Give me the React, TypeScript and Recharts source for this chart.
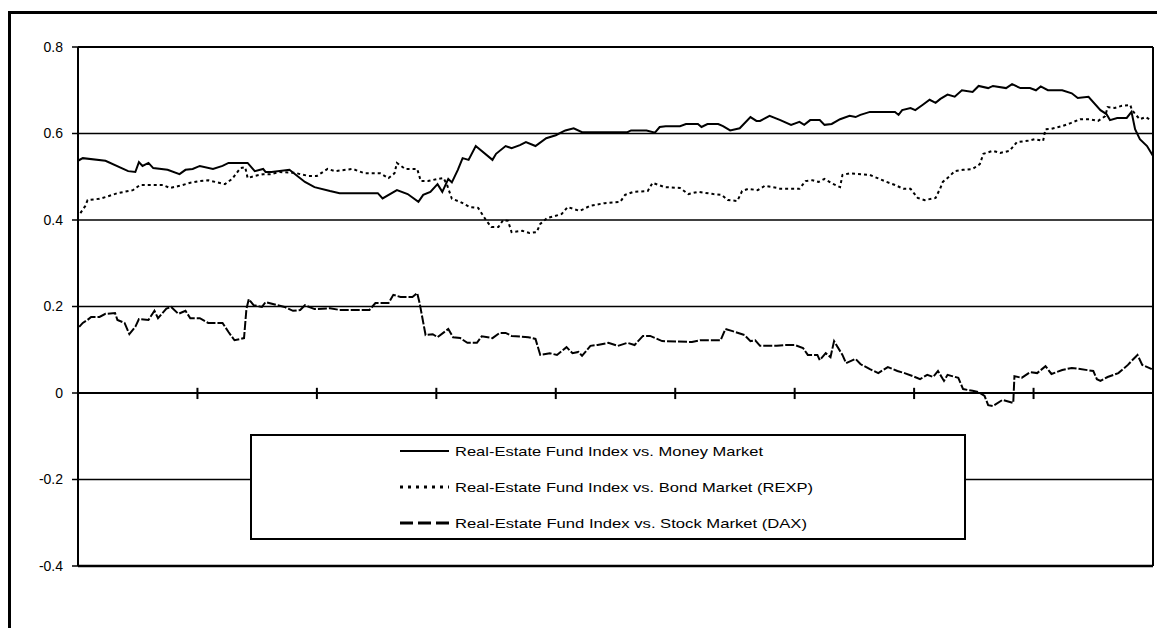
import React from "react";
import { LineChart, Line, XAxis, YAxis, CartesianGrid, ReferenceLine } from "recharts";

// x position in periods (0..9), values = correlation
const moneyT = [0.0,0.04,0.23,0.42,0.48,0.51,0.54,0.59,0.63,0.75,0.85,0.9,0.96,1.02,1.13,1.21,1.26,1.42,1.48,1.55,1.57,1.62,1.77,1.9,1.98,2.11,2.19,2.51,2.55,2.67,2.76,2.85,2.89,2.95,3.01,3.05,3.1,3.13,3.18,3.22,3.27,3.33,3.47,3.5,3.58,3.63,3.7,3.75,3.83,3.92,4.0,4.08,4.15,4.22,4.6,4.63,4.76,4.83,4.87,4.92,5.04,5.09,5.19,5.22,5.27,5.36,5.4,5.46,5.54,5.63,5.68,5.71,5.79,5.88,5.97,6.04,6.08,6.13,6.21,6.25,6.31,6.38,6.46,6.51,6.55,6.63,6.84,6.87,6.9,6.97,7.01,7.07,7.13,7.18,7.22,7.28,7.34,7.4,7.49,7.54,7.62,7.66,7.77,7.82,7.89,7.97,8.02,8.06,8.12,8.24,8.32,8.37,8.46,8.56,8.61,8.64,8.7,8.78,8.82,8.85,8.89,8.95,9.0];
const moneyV = [0.537,0.543,0.537,0.513,0.511,0.534,0.525,0.532,0.52,0.516,0.506,0.516,0.518,0.525,0.518,0.525,0.532,0.532,0.513,0.518,0.511,0.511,0.516,0.488,0.476,0.467,0.462,0.462,0.45,0.469,0.46,0.442,0.458,0.465,0.483,0.465,0.495,0.487,0.516,0.543,0.539,0.571,0.539,0.553,0.571,0.566,0.573,0.58,0.571,0.589,0.596,0.607,0.612,0.603,0.603,0.607,0.607,0.602,0.615,0.617,0.617,0.622,0.622,0.615,0.622,0.622,0.617,0.607,0.612,0.638,0.629,0.629,0.641,0.631,0.62,0.627,0.62,0.631,0.631,0.62,0.622,0.633,0.641,0.638,0.643,0.65,0.65,0.643,0.654,0.659,0.654,0.666,0.678,0.671,0.68,0.69,0.685,0.7,0.696,0.71,0.705,0.71,0.705,0.714,0.705,0.705,0.7,0.709,0.7,0.7,0.693,0.682,0.685,0.654,0.645,0.631,0.636,0.636,0.65,0.61,0.587,0.571,0.548];

const bondT = [0.02,0.06,0.08,0.18,0.23,0.33,0.46,0.52,0.71,0.77,0.85,0.94,1.02,1.09,1.15,1.23,1.29,1.36,1.4,1.42,1.48,1.55,1.61,1.69,1.82,1.86,1.93,2.0,2.09,2.15,2.3,2.4,2.53,2.6,2.65,2.67,2.74,2.84,2.87,2.93,3.01,3.06,3.09,3.13,3.2,3.28,3.35,3.42,3.46,3.52,3.56,3.6,3.63,3.72,3.78,3.84,3.87,3.93,3.99,4.05,4.1,4.2,4.29,4.41,4.54,4.58,4.65,4.77,4.81,4.91,5.04,5.11,5.19,5.32,5.39,5.44,5.52,5.56,5.61,5.69,5.75,5.86,5.88,6.04,6.09,6.15,6.2,6.25,6.31,6.38,6.4,6.46,6.63,6.71,6.77,6.84,6.91,6.97,7.03,7.09,7.18,7.22,7.24,7.3,7.34,7.41,7.49,7.55,7.58,7.66,7.72,7.8,7.86,7.95,8.01,8.08,8.1,8.15,8.24,8.31,8.39,8.47,8.54,8.6,8.62,8.68,8.74,8.81,8.82,8.85,8.89,8.94,8.98];
const bondV = [0.416,0.432,0.446,0.449,0.453,0.462,0.469,0.481,0.481,0.474,0.479,0.486,0.49,0.492,0.488,0.483,0.495,0.52,0.522,0.497,0.502,0.506,0.506,0.511,0.509,0.506,0.502,0.502,0.518,0.513,0.518,0.508,0.508,0.497,0.508,0.532,0.518,0.518,0.49,0.49,0.495,0.497,0.481,0.449,0.442,0.43,0.428,0.398,0.384,0.384,0.4,0.398,0.372,0.375,0.37,0.372,0.391,0.405,0.409,0.414,0.43,0.421,0.433,0.439,0.442,0.458,0.465,0.467,0.486,0.476,0.474,0.46,0.465,0.46,0.458,0.446,0.444,0.467,0.472,0.469,0.479,0.474,0.472,0.472,0.49,0.492,0.488,0.495,0.485,0.476,0.504,0.508,0.504,0.495,0.488,0.481,0.472,0.472,0.451,0.446,0.451,0.474,0.488,0.502,0.513,0.516,0.518,0.529,0.553,0.56,0.555,0.56,0.58,0.583,0.587,0.583,0.61,0.611,0.617,0.624,0.633,0.633,0.629,0.64,0.661,0.659,0.664,0.666,0.657,0.645,0.633,0.638,0.631];

const daxT = [0.01,0.04,0.08,0.11,0.18,0.23,0.31,0.33,0.39,0.43,0.48,0.51,0.59,0.64,0.67,0.74,0.78,0.84,0.9,0.94,1.02,1.09,1.21,1.26,1.31,1.39,1.41,1.43,1.47,1.54,1.57,1.67,1.73,1.8,1.86,1.9,1.98,2.11,2.19,2.44,2.49,2.6,2.64,2.7,2.8,2.84,2.86,2.91,2.97,3.01,3.1,3.14,3.2,3.26,3.34,3.38,3.47,3.53,3.58,3.63,3.77,3.83,3.87,3.95,4.01,4.09,4.14,4.19,4.22,4.29,4.35,4.44,4.52,4.6,4.66,4.73,4.79,4.89,5.14,5.21,5.38,5.42,5.48,5.58,5.63,5.67,5.71,5.85,5.92,6.0,6.07,6.11,6.19,6.21,6.26,6.3,6.33,6.4,6.43,6.51,6.55,6.63,6.7,6.78,6.86,6.92,6.99,7.05,7.11,7.16,7.2,7.25,7.28,7.37,7.41,7.49,7.54,7.59,7.62,7.66,7.74,7.83,7.84,7.9,7.97,8.03,8.1,8.15,8.24,8.32,8.5,8.53,8.56,8.62,8.71,8.79,8.82,8.87,8.91,8.99];
const daxV = [0.153,0.162,0.169,0.176,0.176,0.183,0.185,0.169,0.162,0.136,0.153,0.171,0.169,0.19,0.173,0.195,0.199,0.183,0.19,0.173,0.173,0.162,0.162,0.141,0.122,0.127,0.194,0.217,0.203,0.199,0.21,0.203,0.199,0.19,0.192,0.203,0.194,0.196,0.192,0.192,0.208,0.208,0.227,0.222,0.222,0.231,0.208,0.134,0.136,0.129,0.148,0.129,0.127,0.116,0.116,0.131,0.127,0.139,0.139,0.132,0.129,0.125,0.088,0.092,0.088,0.106,0.092,0.095,0.086,0.109,0.111,0.116,0.109,0.116,0.111,0.132,0.132,0.12,0.118,0.122,0.122,0.148,0.143,0.134,0.12,0.122,0.109,0.109,0.111,0.111,0.104,0.088,0.088,0.076,0.092,0.083,0.12,0.088,0.069,0.079,0.067,0.055,0.046,0.06,0.051,0.046,0.039,0.032,0.042,0.037,0.051,0.028,0.042,0.035,0.009,0.005,0.002,-0.007,-0.028,-0.03,-0.016,-0.023,0.039,0.035,0.048,0.046,0.062,0.044,0.053,0.058,0.051,0.032,0.028,0.037,0.046,0.065,0.074,0.088,0.065,0.055];

const yTicks = [-0.4, -0.2, 0, 0.2, 0.4, 0.6, 0.8];
const xTicks = [1, 2, 3, 4, 5, 6, 7, 8, 9];
const seriesNames = [
  "Real-Estate Fund Index vs. Money Market",
  "Real-Estate Fund Index vs. Bond Market (REXP)",
  "Real-Estate Fund Index vs. Stock Market (DAX)",
];

const toPoints = (t: number[], v: number[]) => t.map((x, i) => ({ t: x, v: v[i] }));
const moneyData = toPoints(moneyT, moneyV);
const bondData = toPoints(bondT, bondV);
const daxData = toPoints(daxT, daxV);

const FONT = "'Liberation Sans', Arial, sans-serif";

const legendStyles = [
  { dash: undefined as string | undefined, width: 2, textLen: 308 },
  { dash: "3 5", width: 3, textLen: 358 },
  { dash: "13 5", width: 3, textLen: 352 },
];

function LegendBox() {
  return (
    <svg
      width={716}
      height={106}
      style={{ position: "absolute", left: 239, top: 420 }}
    >
      <rect x={1} y={1} width={714} height={104} fill="#fff" stroke="#000" strokeWidth={2} />
      {seriesNames.map((name, i) => {
        const y = 17 + i * 36;
        const s = legendStyles[i];
        return (
          <g key={name}>
            <line x1={150} x2={199} y1={y} y2={y} stroke="#000" strokeWidth={s.width} strokeDasharray={s.dash} />
            <text
              x={205}
              y={y}
              dy="0.35em"
              fontSize={13}
              fontFamily={FONT}
              fill="#000"
              textLength={s.textLen}
              lengthAdjust="spacingAndGlyphs"
            >
              {name}
            </text>
          </g>
        );
      })}
    </svg>
  );
}

export default function App() {
  return (
    <div
      style={{
        position: "relative",
        top: 3,
        width: 1157,
        height: 617,
        borderLeft: "3px solid #000",
        borderTop: "3px solid #000",
        fontFamily: FONT,
      }}
    >
      <LineChart
        width={1154}
        height={614}
        margin={{ top: 33, right: 12, bottom: 62, left: 0 }}
      >
        <CartesianGrid vertical={false} stroke="#000" strokeWidth={1.5} />
        <XAxis type="number" dataKey="t" domain={[0, 9]} hide allowDataOverflow />
        <YAxis
          type="number"
          domain={[-0.4, 0.8]}
          ticks={yTicks}
          width={67}
          axisLine={{ stroke: "#000", strokeWidth: 2 }}
          tickLine={{ stroke: "#000", strokeWidth: 1.5 }}
          tickSize={6}
          tickMargin={9}
          tick={{ fill: "#000", fontSize: 14, fontFamily: FONT }}
          allowDataOverflow
        />
        <ReferenceLine y={0.8} stroke="#000" strokeWidth={2} />
        <ReferenceLine y={-0.4} stroke="#000" strokeWidth={2.5} />
        <ReferenceLine y={0} stroke="#000" strokeWidth={2} />
        <ReferenceLine x={9} stroke="#000" strokeWidth={2} />
        {xTicks.map((k) => (
          <ReferenceLine
            key={k}
            segment={[{ x: k, y: -0.014 }, { x: k, y: 0.012 }]}
            stroke="#000"
            strokeWidth={2}
          />
        ))}
        <Line data={daxData} dataKey="v" type="linear" stroke="#000" strokeWidth={2} strokeDasharray="9 2" dot={false} isAnimationActive={false} name={seriesNames[2]} />
        <Line data={bondData} dataKey="v" type="linear" stroke="#000" strokeWidth={2} strokeDasharray="3 3" dot={false} isAnimationActive={false} name={seriesNames[1]} />
        <Line data={moneyData} dataKey="v" type="linear" stroke="#000" strokeWidth={2} dot={false} isAnimationActive={false} name={seriesNames[0]} />
      </LineChart>
      <LegendBox />
    </div>
  );
}
